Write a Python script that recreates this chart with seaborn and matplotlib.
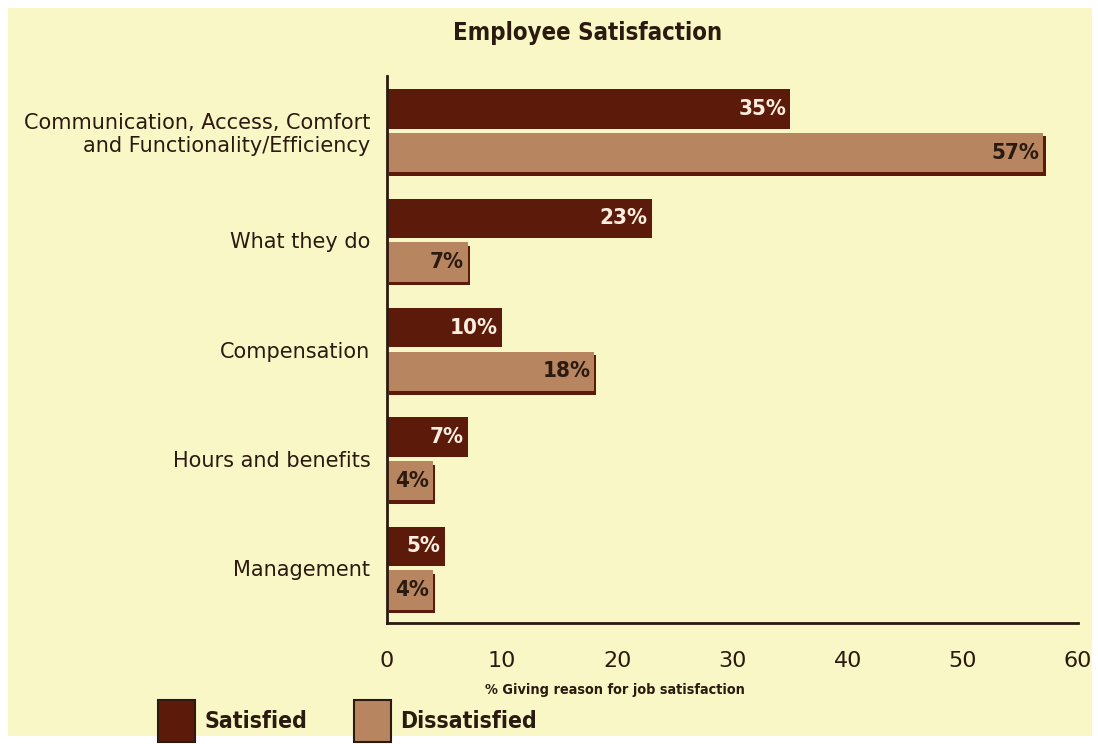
import matplotlib.pyplot as plt
import matplotlib.patheffects as pe
from matplotlib.patches import Rectangle
import pandas as pd
import seaborn as sns

sns.set_theme(style="white")
plt.rcParams['font.family'] = ['DejaVu Sans']

categories = ['Communication, Access, Comfort\nand Functionality/Efficiency',
              'What they do', 'Compensation', 'Hours and benefits', 'Management']
satisfied = [35, 23, 10, 7, 5]
dissatisfied = [57, 7, 18, 4, 4]
groups = ['Satisfied', 'Dissatisfied']

dark = '#5c1a0b'
light = '#b7855f'
cream = '#faf7c6'
ink = '#2b1a10'

df = pd.DataFrame({
    'reason': categories * 2,
    'pct': satisfied + dissatisfied,
    'group': [groups[0]] * 5 + [groups[1]] * 5,
})

fig = plt.figure(figsize=(10.98, 7.44), dpi=100, facecolor='white')
fig.patches.append(Rectangle((8 / 1098, 8 / 744), 1084 / 1098, 728 / 744,
                             transform=fig.transFigure, facecolor=cream,
                             edgecolor='none', zorder=-10))
ax = fig.add_axes([387 / 1098, 1 - 623 / 744, 691 / 1098, 547 / 744])
ax.set_facecolor(cream)

sns.barplot(data=df, y='reason', x='pct', hue='group', orient='h',
            palette=[dark, light], width=0.8, gap=0.1, saturation=1,
            legend=False, ax=ax)

shadow = [pe.SimplePatchShadow(offset=(1.5, -2.5), shadow_rgbFace=dark, alpha=1),
          pe.Normal()]
for i, cont in enumerate(ax.containers):
    txtcol = '#fbeede' if i == 0 else ink
    for bar in cont:
        bar.set_edgecolor('none')
        if i == 1:
            bar.set_path_effects(shadow)
        x_end = bar.get_x() + bar.get_width()
        y_mid = bar.get_y() + bar.get_height() / 2
        ax.text(x_end - 0.35, y_mid, f'{bar.get_width():.0f}%', ha='right',
                va='center', color=txtcol, fontsize=16, fontweight='bold',
                fontstretch='condensed')

ax.set_xlim(0, 60)
ax.set_ylim(4.5, -0.5)
ax.set_xticks(range(0, 61, 10))
ax.tick_params(axis='x', direction='in', length=12, width=1.5, color=ink,
               labelsize=16, labelcolor=ink, pad=20)
ax.tick_params(axis='y', length=0, labelsize=15, labelcolor=ink, pad=12)
for lbl in ax.get_yticklabels():
    lbl.set_horizontalalignment('right')
    lbl.set_multialignment('right')
for s in ['top', 'right']:
    ax.spines[s].set_visible(False)
for s in ['left', 'bottom']:
    ax.spines[s].set_color(ink)
    ax.spines[s].set_linewidth(2)
ax.set_ylabel('')
ax.set_xlabel('% Giving reason for job satisfaction', fontsize=10.4,
              fontweight='bold', color=ink, fontstretch='condensed')
ax.xaxis.set_label_coords(0.33, -0.11)

fig.text(0.535, 0.955, 'Employee Satisfaction', ha='center', va='center',
         fontsize=17.2, fontweight='bold', color=ink, fontstretch='condensed')

# legend
fig.patches.append(Rectangle((158 / 1098, 2 / 744), 37 / 1098, 42 / 744,
                             transform=fig.transFigure, facecolor=dark,
                             edgecolor=ink, linewidth=1.5))
fig.text(204 / 1098, 22 / 744, 'Satisfied', ha='left', va='center',
         fontsize=16.5, fontweight='bold', color=ink, fontstretch='condensed')
fig.patches.append(Rectangle((354 / 1098, 2 / 744), 37 / 1098, 42 / 744,
                             transform=fig.transFigure, facecolor=light,
                             edgecolor=ink, linewidth=1.5))
fig.text(400 / 1098, 22 / 744, 'Dissatisfied', ha='left', va='center',
         fontsize=16.5, fontweight='bold', color=ink, fontstretch='condensed')

fig.savefig('out.png', dpi=100, facecolor='white')
